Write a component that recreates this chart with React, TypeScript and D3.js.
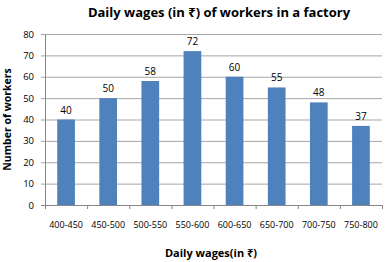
import React from "react";
import * as d3 from "d3";

const categories = ["400-450", "450-500", "500-550", "550-600", "600-650", "650-700", "700-750", "750-800"];
const workers = [40, 50, 58, 72, 60, 55, 48, 37];
const yTicks = [0, 10, 20, 30, 40, 50, 60, 70, 80];

const W = 389, H = 262;
const left = 45, right = 382, top = 34, bottom = 205;
const FONT = "'Open Sans', 'Noto Sans', 'DejaVu Sans', sans-serif";

export default function App() {
  const x = d3.scaleBand().domain(categories).range([left, right]).paddingInner(0.58).paddingOuter(0.29);
  const y = d3.scaleLinear().domain([0, 80]).range([bottom, top]);
  const step = x.step();
  return (
    <svg width={W} height={H} style={{ position: "absolute", left: 0, top: 0, background: "#fff" }} fontFamily={FONT}>
      <text x={219} y={17} textAnchor="middle" fontSize={13} fontWeight="bold" fill="#000">
        Daily wages (in ₹) of workers in a factory
      </text>
      {yTicks.map((t) => (
        <g key={t}>
          <line x1={left - 4} x2={right} y1={y(t) + 0.5} y2={y(t) + 0.5} stroke={t === 0 ? "#868686" : "#a6a6a6"} strokeWidth={1} />
          <text x={34} y={y(t) + 3.5} textAnchor="end" fontSize={9.5} fill="#000">{t}</text>
        </g>
      ))}
      <line x1={left + 0.5} x2={left + 0.5} y1={top} y2={bottom} stroke="#868686" />
      {d3.range(categories.length + 1).map((i) => (
        <line key={i} x1={left + i * step + 0.5} x2={left + i * step + 0.5} y1={bottom} y2={bottom + 4} stroke="#868686" />
      ))}
      {categories.map((c, i) => (
        <g key={c}>
          <rect x={x(c)} y={y(workers[i])} width={x.bandwidth()} height={bottom - y(workers[i])} fill="#4F81BD" />
          <text x={x(c)! + x.bandwidth() / 2} y={y(workers[i]) - 6} textAnchor="middle" fontSize={10} fill="#000">{workers[i]}</text>
          <text x={x(c)! + x.bandwidth() / 2} y={228} textAnchor="middle" fontSize={9} fill="#000">{c}</text>
        </g>
      ))}
      <text x={211} y={257} textAnchor="middle" fontSize={11} fontWeight="bold" fill="#000">Daily wages(in ₹)</text>
      <text transform={`translate(11,${(top + bottom) / 2}) rotate(-90)`} textAnchor="middle" fontSize={10.5} fontWeight="bold" fill="#000">Number of workers</text>
    </svg>
  );
}
